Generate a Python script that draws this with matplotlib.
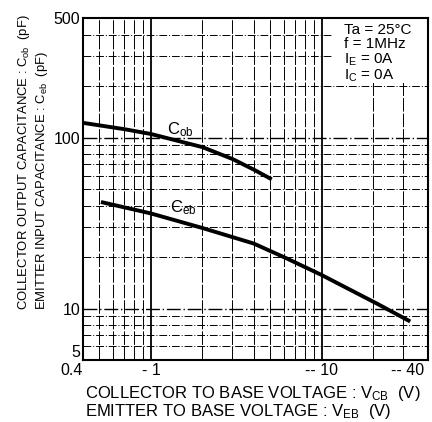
import matplotlib
matplotlib.use("Agg")
import matplotlib.pyplot as plt
from matplotlib.patches import Rectangle
from matplotlib.ticker import FixedLocator, NullFormatter

plt.rcParams['font.family'] = ['Liberation Sans', 'DejaVu Sans']
plt.rcParams['mathtext.fontset'] = 'custom'
plt.rcParams['mathtext.rm'] = 'Liberation Sans'
plt.rcParams['mathtext.default'] = 'regular'

# Cob vs VCB
v_ob = [0.4, 0.7, 1, 2, 3, 4, 5.1]
c_ob = [122, 112, 105, 88, 75, 65, 57]

# Ceb vs VEB
v_eb = [0.51, 1, 2, 4, 6.2, 10, 21, 33]
c_eb = [42, 36, 29.6, 24, 19.7, 15.7, 10.7, 8.4]

x_ticks = [0.4, 1, 10, 40]
x_labels = ['0.4', '- 1', '-- 10', '-- 40']
y_ticks = [5, 10, 100, 500]
y_labels = ['5', '10', '100', '500']

x_minor = [0.5, 0.6, 0.7, 0.8, 0.9, 2, 3, 4, 5, 6, 7, 8, 9, 20, 30]
y_minor = [6, 7, 8, 9, 20, 30, 40, 50, 60, 70, 80, 90, 200, 300, 400]

conditions = ['Ta = 25°C', 'f = 1MHz', 'I$_{E}$ = 0A', 'I$_{C}$ = 0A']

fig = plt.figure(figsize=(4.32, 4.22), dpi=100)
ax = fig.add_axes([0.192, 0.147, 0.799, 0.81])
ax.set_xscale('log')
ax.set_yscale('log')
ax.set_xlim(0.4, 42)
ax.set_ylim(5, 500)
ax.set_axisbelow(True)

ax.xaxis.set_major_locator(FixedLocator(x_ticks))
ax.set_xticklabels(x_labels)
ax.yaxis.set_major_locator(FixedLocator(y_ticks))
ax.set_yticklabels(y_labels)
ax.xaxis.set_minor_locator(FixedLocator(x_minor))
ax.yaxis.set_minor_locator(FixedLocator(y_minor))
ax.xaxis.set_minor_formatter(NullFormatter())
ax.yaxis.set_minor_formatter(NullFormatter())
ax.tick_params(which='both', length=0, labelsize=11.5, pad=2)

xl = ax.get_xticklabels()
xl[0].set_ha('right')
xl[0].set_x(0.43)
xl[-1].set_ha('right')
xl[-1].set_x(44)
ax.get_yticklabels()[0].set_va('bottom')

# grid
for v in [1, 10]:
    ax.axvline(v, color='black', lw=1.3, zorder=0.5)
for v in [10, 100]:
    ax.axhline(v, color='black', lw=1.0, ls=(0, (10, 2, 1, 2)), zorder=0.5)
ax.grid(which='minor', axis='x', color='black', lw=0.7, ls=(0, (14, 2)))
ax.grid(which='minor', axis='y', color='black', lw=0.7, ls=(0, (8, 2, 1, 2)))

ax.add_patch(Rectangle((0.725, 0.81), 0.275, 0.19, transform=ax.transAxes,
                       facecolor='white', edgecolor='none', zorder=1))

for s in ax.spines.values():
    s.set_linewidth(1.5)
    s.set_zorder(3)

ax.plot(v_ob, c_ob, color='black', lw=2.8, solid_capstyle='butt', zorder=4)
ax.plot(v_eb, c_eb, color='black', lw=2.8, solid_capstyle='butt', zorder=4)

ax.text(1.24, 111, 'C$_{ob}$', fontsize=12, va='center', ha='left', zorder=5)
ax.text(1.29, 39, 'C$_{eb}$', fontsize=12, va='center', ha='left', zorder=5)

ax.text(0.755, 0.985, '\n'.join(conditions), transform=ax.transAxes,
        fontsize=11, va='top', ha='left', linespacing=1.0, zorder=5)

fig.text(0.076, 0.265, 'COLLECTOR OUTPUT CAPACITANCE : C$_{ob}$  (pF)\n'
         'EMITTER INPUT CAPACITANCE : C$_{eb}$  (pF)',
         rotation=90, fontsize=9.4, ha='center', va='bottom',
         multialignment='left', linespacing=1.15)

fig.text(0.197, 0.002, 'COLLECTOR TO BASE VOLTAGE : V$_{CB}$  (V)\n'
         'EMITTER TO BASE VOLTAGE : V$_{EB}$  (V)',
         fontsize=12, ha='left', va='bottom', linespacing=0.95)

fig.savefig('out.png', dpi=100)
